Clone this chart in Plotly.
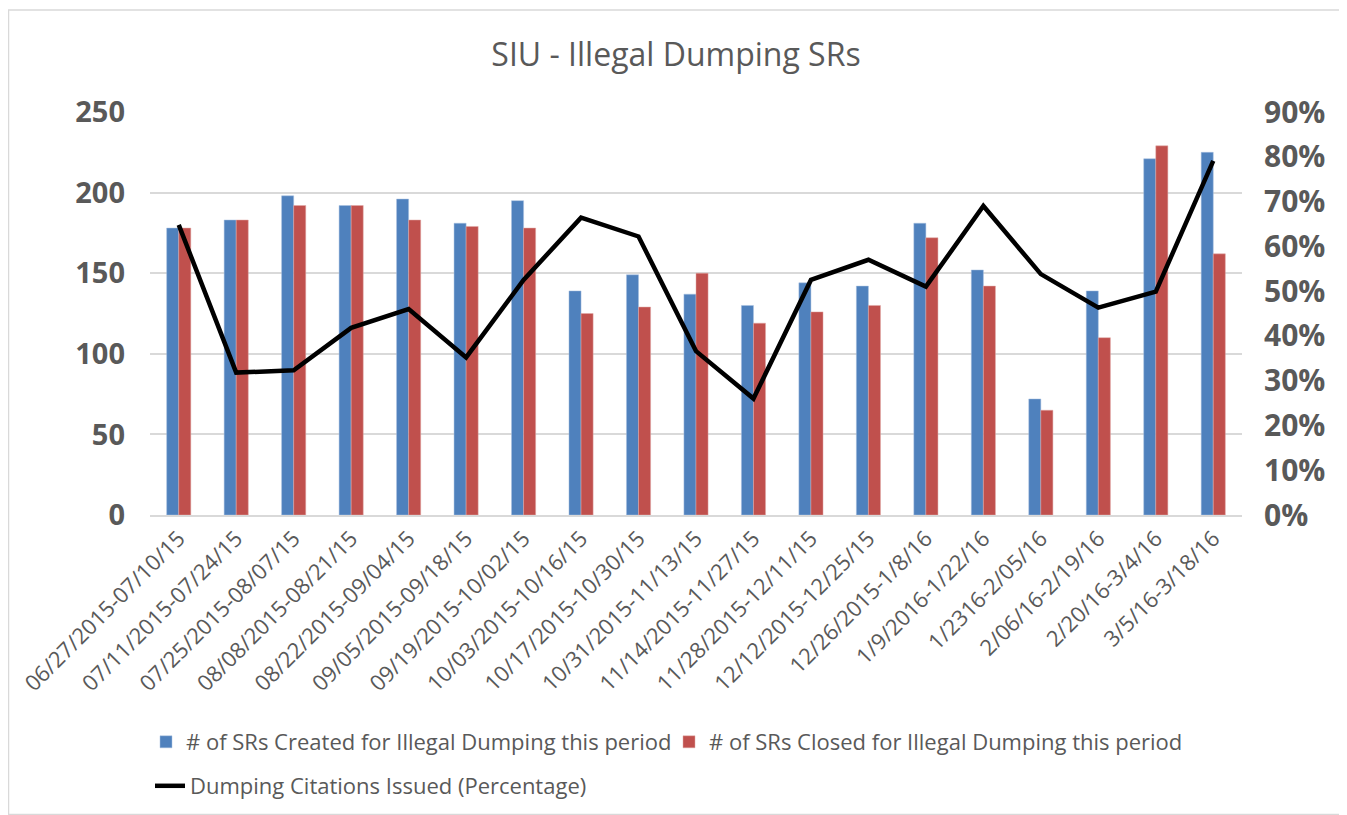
import plotly.graph_objects as go

categories = [
    "06/27/2015-07/10/15", "07/11/2015-07/24/15", "07/25/2015-08/07/15",
    "08/08/2015-08/21/15", "08/22/2015-09/04/15", "09/05/2015-09/18/15",
    "09/19/2015-10/02/15", "10/03/2015-10/16/15", "10/17/2015-10/30/15",
    "10/31/2015-11/13/15", "11/14/2015-11/27/15", "11/28/2015-12/11/15",
    "12/12/2015-12/25/15", "12/26/2015-1/8/16", "1/9/2016-1/22/16",
    "1/2316-2/05/16", "2/06/16-2/19/16", "2/20/16-3/4/16", "3/5/16-3/18/16",
]
created = [178, 183, 198, 192, 196, 181, 195, 139, 149, 137, 130, 144, 142, 181, 152, 72, 139, 221, 225]
closed = [178, 183, 192, 192, 183, 179, 178, 125, 129, 150, 119, 126, 130, 172, 142, 65, 110, 229, 162]
citations_pct = [64.8, 31.8, 32.3, 41.8, 46.0, 35.2, 52.5, 66.4, 62.2, 36.6, 26.0, 52.5, 57.0, 51.0, 69.0, 53.8, 46.3, 49.9, 79.1]

left_ticks = [0, 50, 100, 150, 200, 250]
right_ticks = [0, 10, 20, 30, 40, 50, 60, 70, 80, 90]
right_tick_labels = [f"{v}%" for v in right_ticks]

FONT = "Open Sans"
GRAY = "#595959"

# The page body adds an 8px offset; size the figure so it fits the window.
OFF = 8
FW, FH = 1347 - OFF, 815 - OFF
# plot-area geometry in reference-image px
PL, PR, PT, PB = 150, 1242, 112, 515
L, T = PL - OFF, PT - OFF
W, H = PR - PL, PB - PT
R, B = FW - L - W, FH - T - H


def px_x(x):
    return (x - PL) / W


def px_y(y):
    return (PB - y) / H


fig = go.Figure()
fig.add_trace(go.Bar(
    x=categories, y=created, name="# of SRs Created for Illegal Dumping this period",
    marker=dict(color="#4f81bd", line=dict(color="#a9c0e0", width=0.5)), legend="legend",
))
fig.add_trace(go.Bar(
    x=categories, y=closed, name="# of SRs Closed for Illegal Dumping this period",
    marker=dict(color="#c0504d", line=dict(color="#e0a8a6", width=0.5)), legend="legend",
))
fig.add_trace(go.Scatter(
    x=categories, y=citations_pct, name="Dumping Citations Issued (Percentage)",
    yaxis="y2", mode="lines", line=dict(color="black", width=4.5), legend="legend2",
))

fig.update_layout(
    width=FW, height=FH,
    paper_bgcolor="white", plot_bgcolor="white",
    margin=dict(l=L, r=R, t=T, b=B, autoexpand=False),
    barmode="group", bargap=0.58, bargroupgap=0,
    font=dict(family=FONT, color=GRAY),
    title=dict(text="SIU - Illegal Dumping SRs", x=(676 - OFF) / FW, xref="container", xanchor="center",
               y=1 - (55 - OFF) / FH, yanchor="middle", font=dict(size=32, color=GRAY, family=FONT)),
    xaxis=dict(
        type="category", range=[-0.5, 18.5], tickangle=-45,
        tickfont=dict(size=22, color=GRAY, family=FONT),
        showline=True, linecolor="#d9d9d9", linewidth=2, showgrid=False, ticks="",
        automargin=False,
    ),
    yaxis=dict(
        range=[0, 250], tickvals=left_ticks, ticktext=[f"<b>{v}</b>" for v in left_ticks],
        showgrid=True, gridcolor="#d9d9d9", gridwidth=1.5,
        tickfont=dict(size=29, color=GRAY, family=FONT), ticks="", ticklabelstandoff=24,
        zeroline=False, showline=False, automargin=False,
    ),
    yaxis2=dict(
        range=[0, 90], tickvals=right_ticks, ticktext=["<b>" + t + "</b>" for t in right_tick_labels],
        overlaying="y", side="right", showgrid=False, zeroline=False,
        tickfont=dict(size=30, color=GRAY, family=FONT), ticks="", ticklabelstandoff=21,
        automargin=False,
    ),
    legend=dict(
        orientation="h", x=px_x(146), xanchor="left", y=px_y(721), yanchor="top",
        font=dict(size=22, color=GRAY, family=FONT), bgcolor="rgba(0,0,0,0)",
        itemwidth=30, traceorder="normal", entrywidth=478, entrywidthmode="pixels",
    ),
    legend2=dict(
        orientation="h", x=px_x(150), xanchor="left", y=px_y(765), yanchor="top",
        font=dict(size=22, color=GRAY, family=FONT), bgcolor="rgba(0,0,0,0)",
        itemwidth=30,
    ),
    showlegend=True,
)

fig.add_shape(type="rect", xref="paper", yref="paper",
              x0=px_x(OFF + 0.5), x1=px_x(1345), y0=px_y(814.5), y1=px_y(10),
              line=dict(color="#d9d9d9", width=1.5), fillcolor="rgba(0,0,0,0)", layer="below")

fig.write_html("out.html")
